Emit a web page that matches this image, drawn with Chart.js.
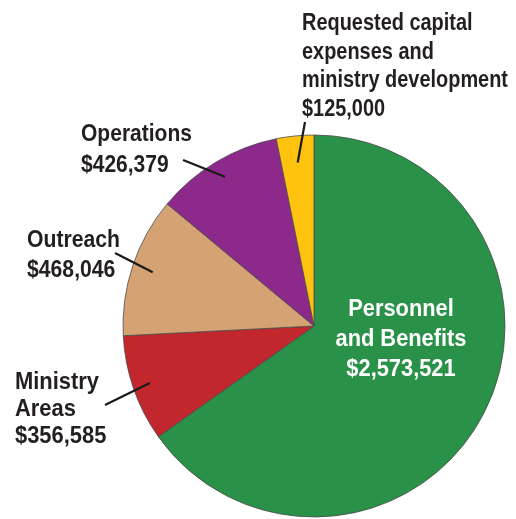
<!DOCTYPE html>
<html><head><meta charset="utf-8">
<script src="https://cdn.jsdelivr.net/npm/chart.js@4"></script>
<style>html,body{margin:0;padding:0;background:#fff;}#wrap{width:516px;height:519px;}</style>
</head><body><div id="wrap"><canvas id="c" width="516" height="519"></canvas></div>
<script>
const categories = ["Personnel and Benefits", "Ministry Areas", "Outreach", "Operations", "Requested capital expenses and ministry development"];
const values = [2573521, 356585, 468046, 426379, 125000];
const labelLines = [
  ["Personnel", "and Benefits", "$2,573,521"],
  ["Ministry", "Areas", "$356,585"],
  ["Outreach", "$468,046"],
  ["Operations", "$426,379"],
  ["Requested capital", "expenses and", "ministry development", "$125,000"]
];
const colors = ["#2A9148", "#C1272D", "#D5A373", "#8E298C", "#FFC20E"];

// label layout (styles): text anchor, line spacing, font size, condensed fit (line index, width), leader end
const labelStyle = [
  {x: 401, y: 316, lh: 30, size: 24, fit: [1, 131], align: "center", color: "#ffffff", lead: null},
  {x: 15, y: 389, lh: 27, size: 24, fit: [0, 84], align: "left", color: "#231F20", lead: {x: 105, y: 405, r: 0.91}},
  {x: 27, y: 247, lh: 30, size: 24, fit: [0, 93], align: "left", color: "#231F20", lead: {x: 115, y: 253, r: 0.89}},
  {x: 81, y: 141, lh: 31, size: 24, fit: [0, 111], align: "left", color: "#231F20", lead: {x: 183, y: 160, r: 0.91}},
  {x: 302, y: 30, lh: 28.5, size: 23, fit: [2, 206], align: "left", color: "#231F20", lead: {x: 305, y: 122, r: 0.86}}
];
const FAMILY = "'Liberation Sans', Arial, sans-serif";

const labelPlugin = {
  id: "labels",
  afterDraw(chart) {
    const ctx = chart.ctx;
    const meta = chart.getDatasetMeta(0);
    ctx.save();
    meta.data.forEach((arc, i) => {
      const st = labelStyle[i];
      if (st.lead) {
        const p = arc.getProps(["x", "y", "startAngle", "endAngle", "outerRadius"], true);
        const mid = (p.startAngle + p.endAngle) / 2;
        const ix = p.x + Math.cos(mid) * p.outerRadius * st.lead.r;
        const iy = p.y + Math.sin(mid) * p.outerRadius * st.lead.r;
        ctx.beginPath();
        ctx.moveTo(st.lead.x, st.lead.y);
        ctx.lineTo(ix, iy);
        ctx.strokeStyle = "#1a1a1a";
        ctx.lineWidth = 2.2;
        ctx.stroke();
      }
      ctx.save();
      ctx.font = "bold " + st.size + "px " + FAMILY;
      const sx = st.fit[1] / ctx.measureText(labelLines[i][st.fit[0]]).width;
      ctx.translate(st.x, st.y);
      ctx.scale(sx, 1);
      ctx.fillStyle = st.color;
      ctx.textAlign = st.align;
      ctx.textBaseline = "alphabetic";
      labelLines[i].forEach((t, k) => ctx.fillText(t, 0, k * st.lh));
      ctx.restore();
    });
    ctx.restore();
  }
};

new Chart(document.getElementById("c"), {
  type: "pie",
  data: {
    labels: categories,
    datasets: [{
      data: values,
      backgroundColor: colors,
      borderColor: "#4a4a4a",
      borderWidth: 0.8,
      hoverOffset: 0,
      offset: 0
    }]
  },
  options: {
    responsive: false,
    animation: false,
    devicePixelRatio: 1,
    radius: 191,
    layout: {padding: {left: 123, right: 11, top: 135, bottom: 2}},
    plugins: {legend: {display: false}, tooltip: {enabled: false}}
  },
  plugins: [labelPlugin]
});
</script>
</body></html>
